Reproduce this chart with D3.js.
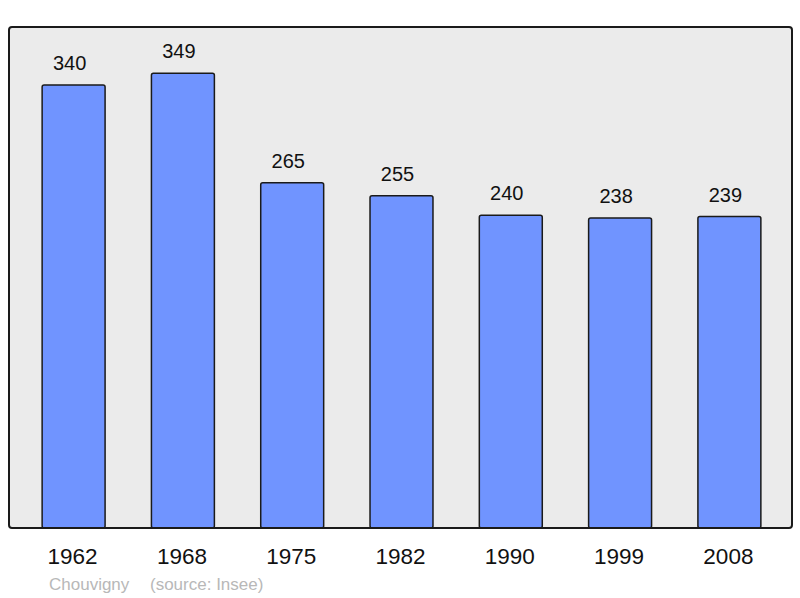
<!DOCTYPE html>
<html>
<head>
<meta charset="utf-8">
<script src="https://cdn.jsdelivr.net/npm/d3@7"></script>
<style>
    body { margin: 0; background: #fff; }
    text { font-family: "Liberation Sans", Arial, sans-serif; }
</style>
</head>
<body>
<div id="chart"></div>
<script>
// data
const years = ["1962", "1968", "1975", "1982", "1990", "1999", "2008"];
const population = [340, 349, 265, 255, 240, 238, 239];
const commune = "Chouvigny";
const source = "(source: Insee)";

const width = 800, height = 598;
const panel = { left: 9, top: 27, right: 792, bottom: 528 };

const svg = d3.select("#chart")
    .append("svg")
    .attr("width", width)
    .attr("height", height);

// background panel
svg.append("rect")
    .attr("x", panel.left)
    .attr("y", panel.top)
    .attr("width", panel.right - panel.left)
    .attr("height", panel.bottom - panel.top)
    .attr("rx", 3)
    .attr("fill", "#ebebeb");

// scales
const xScale = d3.scaleBand()
    .domain(years)
    .range([panel.left + 1, panel.right + 1])
    .paddingInner(0.424)
    .paddingOuter(0.294);

const yScale = d3.scaleLinear()
    .domain([0, 384.5])
    .range([panel.bottom, panel.top]);

// bars
svg.selectAll(".bar")
    .data(years)
    .enter()
    .append("rect")
    .attr("class", "bar")
    .attr("x", d => xScale(d))
    .attr("y", (d, i) => yScale(population[i]))
    .attr("width", xScale.bandwidth())
    .attr("height", (d, i) => yScale(0) - yScale(population[i]))
    .attr("rx", 2)
    .attr("fill", "#7094ff")
    .attr("stroke", "#1a1a1a")
    .attr("stroke-width", 1.5);

// value labels
svg.selectAll(".value")
    .data(years)
    .enter()
    .append("text")
    .attr("class", "value")
    .attr("x", d => xScale(d) + xScale.bandwidth() / 2 - 4)
    .attr("y", (d, i) => yScale(population[i]) - 15)
    .attr("text-anchor", "middle")
    .attr("font-size", 20)
    .attr("fill", "#111")
    .text((d, i) => population[i]);

// panel border on top so bars sit inside it
svg.append("rect")
    .attr("x", panel.left)
    .attr("y", panel.top)
    .attr("width", panel.right - panel.left)
    .attr("height", panel.bottom - panel.top)
    .attr("rx", 3)
    .attr("fill", "none")
    .attr("stroke", "#1a1a1a")
    .attr("stroke-width", 2);

// year axis (labels only)
const xAxis = d3.axisBottom(xScale).tickSize(0).tickPadding(0);
const axisG = svg.append("g")
    .attr("transform", `translate(0, ${panel.bottom})`)
    .call(xAxis);
axisG.select(".domain").remove();
axisG.selectAll("text")
    .attr("x", -1)
    .attr("y", 36)
    .attr("dy", 0)
    .attr("font-size", 22.5)
    .attr("font-family", "Liberation Sans, Arial, sans-serif")
    .attr("fill", "#111");

// footer
svg.append("text")
    .attr("x", 49)
    .attr("y", 590)
    .attr("font-size", 17)
    .attr("fill", "#b8b8b8")
    .text(commune);

svg.append("text")
    .attr("x", 150)
    .attr("y", 590)
    .attr("font-size", 17)
    .attr("fill", "#b8b8b8")
    .text(source);
</script>
</body>
</html>
